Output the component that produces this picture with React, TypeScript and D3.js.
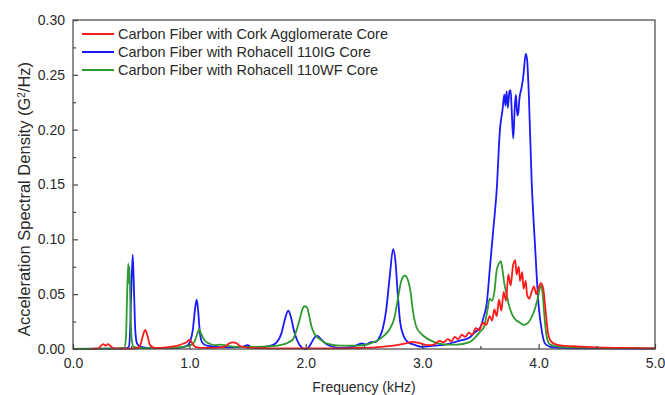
import React, { useEffect, useRef } from 'react';
import * as d3 from 'd3';

// [frequency kHz, ASD G^2/Hz]
const corkSeries: [number, number][] = [
  [0.15, 0.0], [0.22, 0.0005], [0.24, 0.003], [0.26, 0.0045], [0.28, 0.003], [0.3, 0.0045], [0.32, 0.003],
  [0.35, 0.0005], [0.45, 0.0003], [0.55, 0.0008], [0.58, 0.004], [0.6, 0.012], [0.62, 0.0175], [0.64, 0.012],
  [0.66, 0.004], [0.7, 0.001], [0.8, 0.0015], [0.9, 0.003], [0.95, 0.005], [0.98, 0.0065], [1.0, 0.0085],
  [1.02, 0.006], [1.05, 0.002], [1.1, 0.001], [1.2, 0.001], [1.3, 0.002], [1.34, 0.005], [1.37, 0.006],
  [1.4, 0.0055], [1.43, 0.003], [1.5, 0.0012], [1.6, 0.0008], [1.8, 0.0005], [2.0, 0.0005], [2.2, 0.0005],
  [2.4, 0.0008], [2.6, 0.0015], [2.75, 0.003], [2.85, 0.005], [2.92, 0.0065], [2.97, 0.0055], [3.05, 0.0035],
  [3.1, 0.004], [3.15, 0.0075], [3.18, 0.006], [3.22, 0.009], [3.25, 0.007], [3.28, 0.011], [3.31, 0.009],
  [3.34, 0.013], [3.37, 0.011], [3.4, 0.015], [3.43, 0.013], [3.46, 0.019], [3.49, 0.017], [3.52, 0.024],
  [3.55, 0.022], [3.58, 0.03], [3.6, 0.026], [3.62, 0.036], [3.64, 0.03], [3.66, 0.045], [3.68, 0.035],
  [3.7, 0.052], [3.72, 0.044], [3.74, 0.068], [3.76, 0.058], [3.78, 0.076], [3.8, 0.081], [3.81, 0.068],
  [3.83, 0.075], [3.84, 0.062], [3.86, 0.07], [3.87, 0.055], [3.89, 0.062], [3.9, 0.05], [3.92, 0.046],
  [3.94, 0.052], [3.96, 0.057], [3.98, 0.05], [4.0, 0.056], [4.02, 0.06], [4.04, 0.055], [4.06, 0.035],
  [4.08, 0.015], [4.1, 0.008], [4.13, 0.005], [4.2, 0.003], [4.3, 0.0025], [4.5, 0.0015], [4.7, 0.001],
  [5.0, 0.0005],
];

const igSeries: [number, number][] = [
  [0.0, 0], [0.3, 0.0003], [0.45, 0.0005], [0.48, 0.002], [0.49, 0.015], [0.5, 0.05], [0.513, 0.086],
  [0.525, 0.05], [0.535, 0.017], [0.55, 0.005], [0.58, 0.002], [0.7, 0.0008], [0.9, 0.001], [0.98, 0.003],
  [1.01, 0.008], [1.03, 0.018], [1.05, 0.038], [1.063, 0.045], [1.075, 0.035], [1.09, 0.015], [1.11, 0.006],
  [1.15, 0.003], [1.3, 0.0015], [1.45, 0.002], [1.5, 0.0035], [1.53, 0.002], [1.6, 0.0015], [1.7, 0.003],
  [1.75, 0.006], [1.79, 0.014], [1.82, 0.027], [1.85, 0.035], [1.87, 0.03], [1.9, 0.016], [1.93, 0.007],
  [1.96, 0.002], [1.99, 0.0], [2.02, 0.001], [2.05, 0.006], [2.08, 0.011], [2.1, 0.012], [2.13, 0.009],
  [2.17, 0.005], [2.22, 0.0025], [2.3, 0.001], [2.4, 0.002], [2.45, 0.004], [2.48, 0.005], [2.52, 0.004],
  [2.55, 0.006], [2.6, 0.0065], [2.63, 0.01], [2.66, 0.018], [2.69, 0.035], [2.72, 0.065], [2.75, 0.091],
  [2.77, 0.08], [2.79, 0.05], [2.81, 0.025], [2.84, 0.012], [2.88, 0.006], [2.93, 0.004], [3.0, 0.002],
  [3.1, 0.003], [3.2, 0.004], [3.3, 0.007], [3.4, 0.01], [3.45, 0.015], [3.5, 0.02], [3.53, 0.03],
  [3.555, 0.042], [3.58, 0.072], [3.61, 0.108], [3.64, 0.145], [3.668, 0.2], [3.69, 0.218], [3.705, 0.232],
  [3.715, 0.222], [3.725, 0.235], [3.735, 0.22], [3.75, 0.235], [3.76, 0.236], [3.77, 0.215], [3.782, 0.192],
  [3.795, 0.22], [3.805, 0.232], [3.817, 0.213], [3.825, 0.215], [3.835, 0.228], [3.855, 0.239], [3.87, 0.25],
  [3.889, 0.269], [3.9, 0.265], [3.915, 0.235], [3.94, 0.154], [3.97, 0.093], [4.0, 0.04], [4.03, 0.015],
  [4.055, 0.005], [4.1, 0.002], [4.2, 0.001], [4.5, 0.0005], [5.0, 0.0003],
];

const wfSeries: [number, number][] = [
  [0.0, 0], [0.3, 0.0003], [0.44, 0.001], [0.455, 0.01], [0.465, 0.05], [0.475, 0.078], [0.48, 0.06],
  [0.485, 0.075], [0.495, 0.03], [0.505, 0.008], [0.52, 0.002], [0.6, 0.0008], [0.8, 0.001], [0.95, 0.002],
  [1.0, 0.003], [1.04, 0.006], [1.065, 0.013], [1.085, 0.018], [1.1, 0.014], [1.13, 0.008], [1.17, 0.005],
  [1.22, 0.0035], [1.27, 0.004], [1.32, 0.003], [1.4, 0.002], [1.55, 0.002], [1.7, 0.0025], [1.8, 0.004],
  [1.85, 0.006], [1.89, 0.009], [1.92, 0.017], [1.95, 0.028], [1.97, 0.036], [1.99, 0.039], [2.01, 0.038],
  [2.03, 0.03], [2.05, 0.02], [2.08, 0.013], [2.12, 0.009], [2.16, 0.006], [2.22, 0.004], [2.3, 0.003],
  [2.45, 0.003], [2.55, 0.005], [2.62, 0.008], [2.67, 0.012], [2.72, 0.018], [2.76, 0.028], [2.79, 0.045],
  [2.82, 0.062], [2.85, 0.067], [2.88, 0.062], [2.9, 0.052], [2.92, 0.035], [2.95, 0.02], [2.99, 0.014],
  [3.05, 0.009], [3.1, 0.0065], [3.2, 0.004], [3.3, 0.004], [3.4, 0.006], [3.45, 0.01], [3.5, 0.016],
  [3.53, 0.02], [3.56, 0.035], [3.58, 0.046], [3.6, 0.044], [3.62, 0.052], [3.64, 0.072], [3.66, 0.078],
  [3.675, 0.08], [3.69, 0.072], [3.705, 0.06], [3.725, 0.05], [3.745, 0.04], [3.77, 0.032], [3.8, 0.027],
  [3.84, 0.024], [3.87, 0.022], [3.9, 0.023], [3.93, 0.027], [3.96, 0.034], [3.99, 0.045], [4.02, 0.058],
  [4.035, 0.05], [4.05, 0.03], [4.07, 0.011], [4.1, 0.004], [4.2, 0.002], [4.5, 0.001], [5.0, 0.0005],
];

const seriesNames = [
  'Carbon Fiber with Cork Agglomerate Core',
  'Carbon Fiber with Rohacell 110IG Core',
  'Carbon Fiber with Rohacell 110WF Core',
];
const seriesColors = ['#ff1a1a', '#1a1aff', '#2f9a2f'];

const xTicks = [0, 1, 2, 3, 4, 5];
const xMinorTicks = [0.5, 1.5, 2.5, 3.5, 4.5];
const yTicks = [0, 0.05, 0.1, 0.15, 0.2, 0.25, 0.3];
const yMinorTicks = [0.025, 0.075, 0.125, 0.175, 0.225, 0.275];

const App = () => {
  const svgRef = useRef<SVGSVGElement | null>(null);
  const width = 665;
  const height = 395;

  useEffect(() => {
    if (!svgRef.current) return;
    const svg = d3.select(svgRef.current);
    svg.selectAll('*').remove();

    const margin = { top: 20, right: 10, bottom: 46, left: 73 };
    const innerWidth = width - margin.left - margin.right;
    const innerHeight = height - margin.top - margin.bottom;
    const font = 'Arial, "Liberation Sans", sans-serif';

    const g = svg.append('g').attr('transform', `translate(${margin.left},${margin.top})`);

    const x = d3.scaleLinear().domain([0, 5]).range([0, innerWidth]);
    const y = d3.scaleLinear().domain([0, 0.3]).range([innerHeight, 0]);

    const line = d3
      .line<[number, number]>()
      .x(d => x(d[0]))
      .y(d => y(d[1]))
      .curve(d3.curveMonotoneX);

    // draw order: blue, green, red
    const drawOrder = [1, 2, 0];
    const allSeries = [corkSeries, igSeries, wfSeries];
    drawOrder.forEach(i => {
      g.append('path')
        .datum(allSeries[i])
        .attr('fill', 'none')
        .attr('stroke', seriesColors[i])
        .attr('stroke-width', 1.8)
        .attr('stroke-linejoin', 'round')
        .attr('d', line);
    });

    // frame
    g.append('rect')
      .attr('width', innerWidth)
      .attr('height', innerHeight)
      .attr('fill', 'none')
      .attr('stroke', '#444')
      .attr('stroke-width', 1.2);

    const styleAxis = (sel: any) => {
      sel.select('.domain').remove();
      sel.selectAll('line').attr('stroke', '#444').attr('stroke-width', 1.2);
      sel.selectAll('text').attr('fill', '#2a2a2a').style('font-family', font).style('font-size', '14px');
    };

    g.append('g')
      .attr('transform', `translate(0,${innerHeight})`)
      .call(d3.axisBottom(x).tickValues(xTicks).tickSize(-5).tickPadding(9).tickFormat(d3.format('.1f')))
      .call(styleAxis);
    g.append('g')
      .attr('transform', `translate(0,${innerHeight})`)
      .call(d3.axisBottom(x).tickValues(xMinorTicks).tickSize(-3).tickFormat(() => ''))
      .call(styleAxis);

    g.append('g')
      .call(d3.axisLeft(y).tickValues(yTicks).tickSize(-5).tickPadding(8).tickFormat(d3.format('.2f')))
      .call(styleAxis);
    g.append('g')
      .call(d3.axisLeft(y).tickValues(yMinorTicks).tickSize(-3).tickFormat(() => ''))
      .call(styleAxis);

    // axis titles
    svg.append('text')
      .attr('x', margin.left + innerWidth / 2)
      .attr('y', 392)
      .attr('text-anchor', 'middle')
      .attr('fill', '#2a2a2a')
      .style('font-family', font)
      .style('font-size', '14px')
      .text('Frequency (kHz)');

    const yTitle = svg.append('text')
      .attr('transform', `translate(30,199) rotate(-90)`)
      .attr('text-anchor', 'middle')
      .attr('fill', '#2a2a2a')
      .style('font-family', font)
      .style('font-size', '16.5px');
    yTitle.append('tspan').text('Acceleration Spectral Density (G');
    yTitle.append('tspan').attr('baseline-shift', 'super').style('font-size', '10px').text('2');
    yTitle.append('tspan').text('/Hz)');

    // legend
    const legend = svg.append('g').attr('transform', `translate(82, 34)`);
    seriesNames.forEach((name, i) => {
      const row = legend.append('g').attr('transform', `translate(0, ${i * 18})`);
      row.append('line')
        .attr('x1', 0)
        .attr('x2', 32)
        .attr('y1', 0)
        .attr('y2', 0)
        .attr('stroke', seriesColors[i])
        .attr('stroke-width', 2);
      row.append('text')
        .attr('x', 36)
        .attr('y', 0)
        .attr('dy', '0.35em')
        .attr('fill', '#2a2a2a')
        .style('font-family', font)
        .style('font-size', '14.5px')
        .text(name);
    });
  }, []);

  return (
    <svg
      ref={svgRef}
      width={width}
      height={height}
      style={{ position: 'absolute', left: 0, top: 0, background: '#fff' }}
    />
  );
};

export default App;
